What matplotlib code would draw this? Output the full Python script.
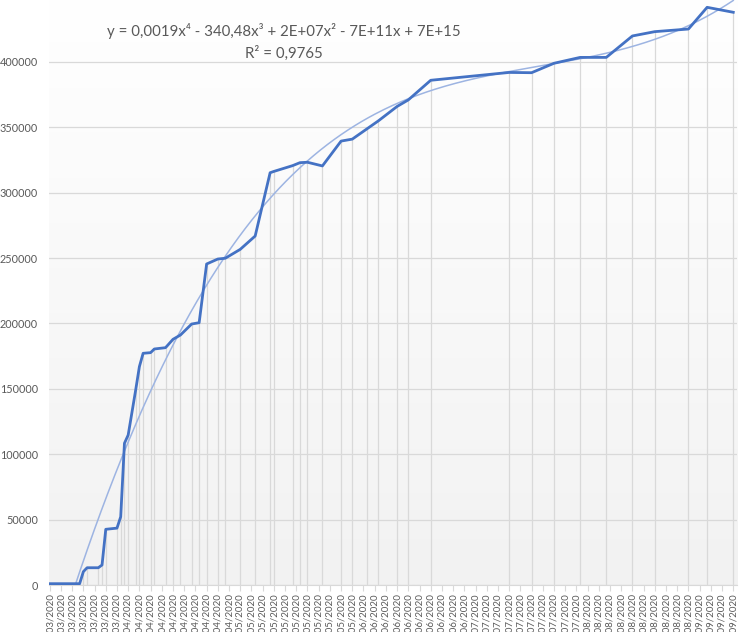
## cumulative count with drop lines and an order-4 polynomial trendline (Excel style)

import numpy as np
import pandas as pd
import matplotlib
matplotlib.use('Agg')
from matplotlib import pyplot as plt
import matplotlib.dates as mdates

plt.rcParams['font.family'] = ['Lato', 'DejaVu Sans']

dates = ['11/03/2020', '19/03/2020', '20/03/2020', '21/03/2020', '24/03/2020', '25/03/2020',
         '26/03/2020', '29/03/2020', '30/03/2020', '31/03/2020', '01/04/2020', '03/04/2020',
         '04/04/2020', '05/04/2020', '07/04/2020', '08/04/2020', '11/04/2020', '13/04/2020',
         '15/04/2020', '18/04/2020', '20/04/2020', '22/04/2020', '25/04/2020', '27/04/2020',
         '01/05/2020', '05/05/2020', '09/05/2020', '10/05/2020', '15/05/2020', '17/05/2020',
         '19/05/2020', '23/05/2020', '28/05/2020', '31/05/2020', '04/06/2020', '07/06/2020',
         '12/06/2020', '15/06/2020', '21/06/2020', '12/07/2020', '18/07/2020', '24/07/2020',
         '31/07/2020', '07/08/2020', '14/08/2020', '20/08/2020', '29/08/2020', '03/09/2020',
         '10/09/2020']
values = [1000, 1000, 10200, 13200, 13200, 15300, 42600, 43500, 52200, 108400, 114700,
          149000, 167000, 177200, 177700, 180500, 181500, 187900, 191200, 199600, 200600,
          245500, 249300, 249900, 256700, 266900, 315300, 316300, 320700, 323000, 323300,
          320500, 339500, 341000, 349000, 355000, 366000, 371000, 386000, 392000, 391800,
          399000, 403500, 403500, 419900, 423200, 425200, 441800, 438000]
yticks = [0, 50000, 100000, 150000, 200000, 250000, 300000, 350000, 400000]
equation = 'y = 0,0019x\u2074 - 340,48x\u00b3 + 2E+07x\u00b2 - 7E+11x + 7E+15'
r2_text = 'R\u00b2 = 0,9765'

x = pd.to_datetime(dates, format='%d/%m/%Y')
y = np.array(values, dtype=float)

# trendline: polynomial order 4 fitted on day numbers
days = (x - x[0]).days.values.astype(float)
coef = np.polyfit(days, y, 4)
tdays = np.linspace(days[0], days[-1], 400)
tx = x[0] + pd.to_timedelta(tdays, unit='D')
ty = np.polyval(coef, tdays)

fig = plt.figure(figsize=(7.45, 6.32), dpi=100)
ax = fig.add_axes([49 / 745, 1 - 585 / 632, 688 / 745, 588.4 / 632])

# plot area gradient
grad = np.linspace(0, 1, 256).reshape(-1, 1)
ax.imshow(grad, extent=[0, 1, 0, 1], transform=ax.transAxes, aspect='auto',
          cmap=matplotlib.colors.LinearSegmentedColormap.from_list('bg', ['#f2f2f2', '#ffffff']),
          origin='lower', zorder=0)

for v in yticks:
    ax.axhline(v, color='#d9d9d9', lw=0.9, zorder=1)

ax.vlines(x, 0, y, color='#d9d9d9', lw=0.9, zorder=2)
ax.plot(tx, ty, color='#9db4e2', lw=1.1, zorder=3)
ax.plot(x, y, color='#4472c4', lw=2.0, zorder=4)

ax.set_ylim(0, 450000)
ax.set_xlim(x[0] - pd.Timedelta(days=0.2), x[-1] + pd.Timedelta(days=1.0))
ax.set_yticks(yticks)
ax.set_yticklabels([str(v) for v in yticks])
ticks = pd.date_range(x[0], x[-1], freq='3D')
ax.set_xticks(ticks)
ax.xaxis.set_major_formatter(mdates.DateFormatter('%d/%m/%Y'))
plt.setp(ax.get_xticklabels(), rotation=90)

for s in ['top', 'right', 'left']:
    ax.spines[s].set_visible(False)
ax.spines['bottom'].set_color('#d9d9d9')
ax.tick_params(axis='y', length=0, labelsize=7.8, labelcolor='#595959', pad=8)
ax.tick_params(axis='x', length=4, color='#d9d9d9', labelsize=7, labelcolor='#595959', pad=2)

fig.text(284 / 745, 1 - 31 / 632, equation, ha='center', va='center', fontsize=10.8, color='#595959')
fig.text(284 / 745, 1 - 53 / 632, r2_text, ha='center', va='center', fontsize=10.8, color='#595959')

fig.savefig('out.png', dpi=100)
